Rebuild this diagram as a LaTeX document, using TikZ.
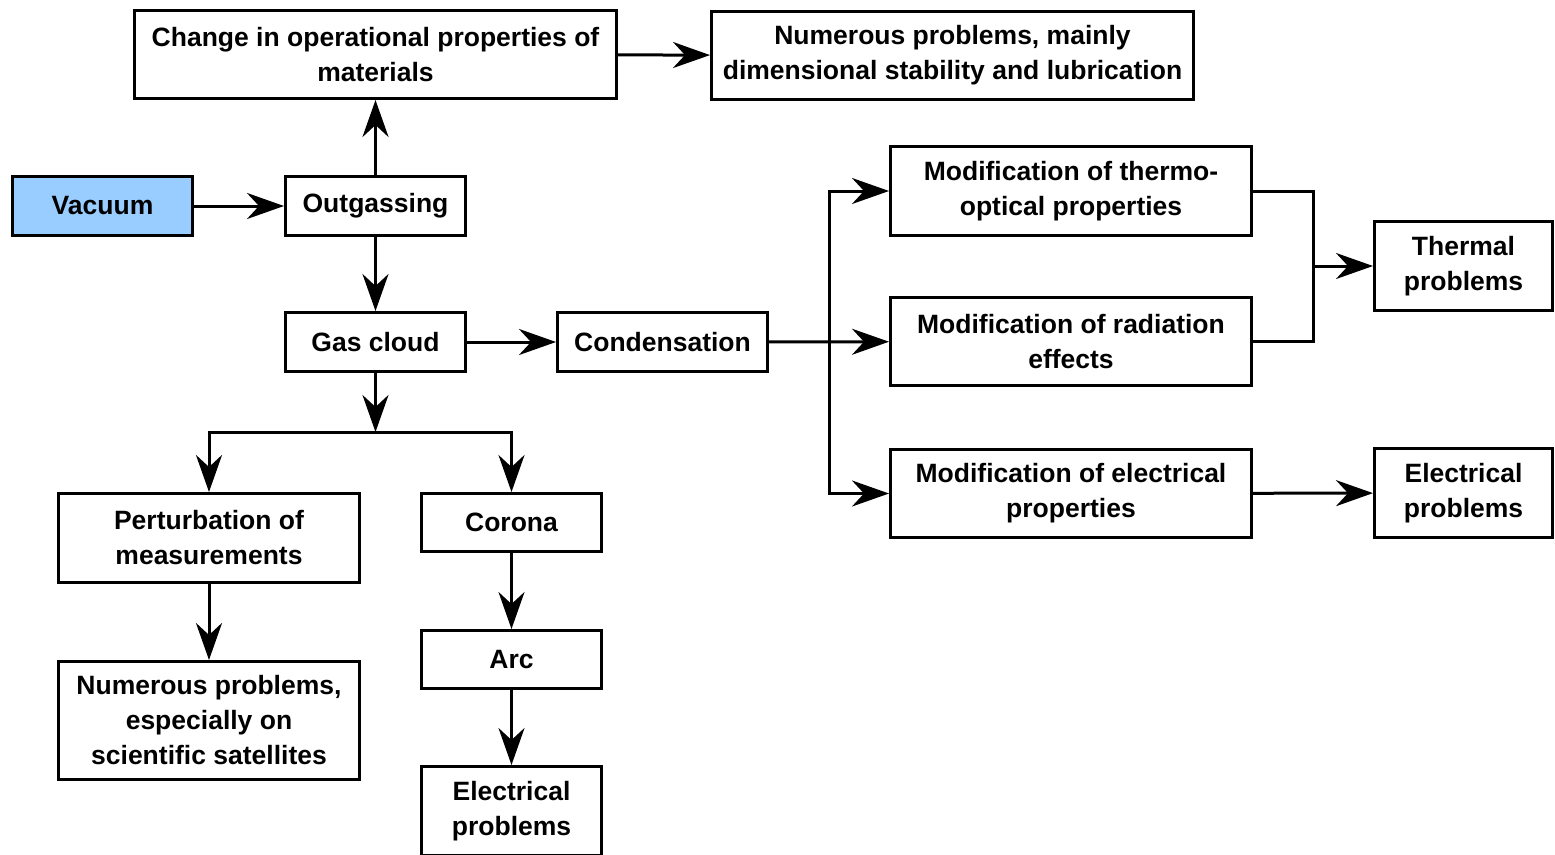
\documentclass[tikz,border=0pt]{standalone}
\usepackage{fontspec}
\setmainfont{Liberation Sans}
\usepackage{tikz}
\usepackage{xcolor}
\usetikzlibrary{arrows.meta}

\definecolor{vacblue}{HTML}{99CCFF}

\tikzset{
	box/.style={draw, line width=3pt, align=center, inner sep=0pt,
		font=\fontsize{26.5}{35}\selectfont\bfseries},
	arr/.style={line width=3pt, -{Stealth[length=37pt, width=26pt, inset=12pt]}},
	line/.style={line width=3pt}
}

\begin{document}
\begin{tikzpicture}[x=1pt, y=-1pt]
		\useasboundingbox (0,0) rectangle (1555,854);
		\node[box, minimum width=482pt, minimum height=88pt] (change) at (375.5,54.5) {Change in operational properties of\\materials};
		\node[box, minimum width=482pt, minimum height=88pt] (numer) at (952.5,55.5) {Numerous problems, mainly\\dimensional stability and lubrication};
		\node[box, fill=vacblue, minimum width=180pt, minimum height=59pt] (vac) at (102.5,206) {Vacuum};
		\node[box, minimum width=180pt, minimum height=59pt] (outg) at (375.5,206) {Outgassing};
		\node[box, minimum width=180pt, minimum height=59pt] (gas) at (375.5,342) {Gas cloud};
		\node[box, minimum width=210pt, minimum height=59pt] (cond) at (662.5,342) {Condensation};
		\node[box, minimum width=361pt, minimum height=89pt] (thermo) at (1071,191) {Modification of thermo-\\optical properties};
		\node[box, minimum width=361pt, minimum height=88pt] (rad) at (1071,341.5) {Modification of radiation\\effects};
		\node[box, minimum width=361pt, minimum height=88pt] (elmod) at (1071,493.5) {Modification of electrical\\properties};
		\node[box, minimum width=178pt, minimum height=89pt] (thermal) at (1463.5,266) {Thermal\\problems};
		\node[box, minimum width=178pt, minimum height=89pt] (elecR) at (1463.5,493) {Electrical\\problems};
		\node[box, minimum width=301pt, minimum height=89pt] (pert) at (209,538) {Perturbation of\\measurements};
		\node[box, minimum width=180pt, minimum height=58pt] (corona) at (511.5,522.5) {Corona};
		\node[box, minimum width=180pt, minimum height=58pt] (arc) at (511.5,659.5) {Arc};
		\node[box, minimum width=180pt, minimum height=89pt] (elecB) at (511.5,811) {Electrical\\problems};
		\node[box, minimum width=301pt, minimum height=118pt] (numesp) at (209,720.5) {Numerous problems,\\especially on\\scientific satellites};

		% branch points
		\coordinate (split) at (375.5,432);
		\coordinate (fork) at (829,342);
		\coordinate (join) at (1313,266);

		\draw[arr] (vac) -- (outg);
		\draw[arr] (outg) -- (change);
		\draw[arr] (change) -- (numer);
		\draw[arr] (outg) -- (gas);
		\draw[arr] (gas) -- (cond);
		\draw[arr] (gas) -- (split);
		\draw[arr] (split) -| (pert);
		\draw[arr] (split) -| (corona);
		\draw[arr] (pert) -- (numesp);
		\draw[arr] (corona) -- (arc);
		\draw[arr] (arc) -- (elecB);
		\draw[arr] (cond) -- (rad);
		\draw[arr] (fork) |- (thermo);
		\draw[arr] (fork) |- (elmod);
		\draw[line] (thermo) -| (join) |- (rad);
		\draw[arr] (join) -- (thermal);
		\draw[arr] (elmod) -- (elecR);
	\end{tikzpicture}
\end{document}
